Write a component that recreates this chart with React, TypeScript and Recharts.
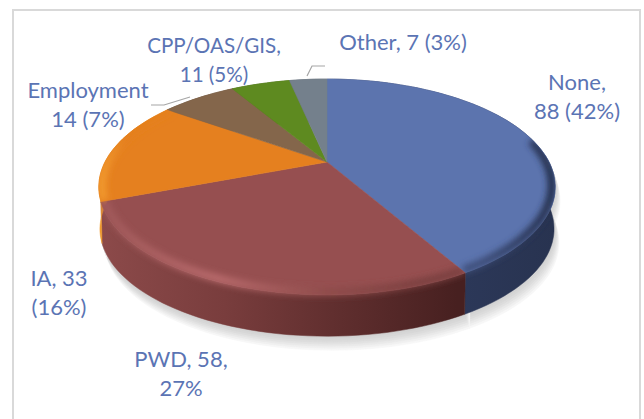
import { PieChart, Pie } from "recharts";

const names = ["None", "PWD", "IA", "Employment", "CPP/OAS/GIS", "Other"];
const values = [88, 58, 33, 14, 11, 7];
const topColors = ["#5c74ae", "#964f50", "#e5801f", "#84664b", "#5e8a20", "#74808c"];
const sideColors = ["url(#sideBlue)", "url(#sideRed)", "#f09a2c", "#5f4a36", "#42611a", "#525b64"];
const rimColors = ["url(#rimBlue)", "url(#rimRed)", "url(#rimOrange)", "none", "none", "none"];
const labelLines = [
  ["None,", "88 (42%)"],
  ["PWD, 58,", "27%"],
  ["IA, 33", "(16%)"],
  ["Employment", "14 (7%)"],
  ["CPP/OAS/GIS,", "11 (5%)"],
  ["Other, 7 (3%)"],
];

const slices = names.map((name, i) => ({ name, value: values[i], i }));

// where the labels sit (center x, first baseline, font size)
const labelPos = [
  [577, 90, 22],
  [181, 367, 22],
  [59, 286, 22],
  [88, 98, 22],
  [214, 53, 20.6],
  [403, 50, 22],
];
const leaders: Record<number, string> = {
  3: "151,105 164,105 190,97",
  5: "307,76 312,66 325,66",
};

const CX = 327;
const CY = 162;
const RADIUS = 222;
const FLATTEN = 0.46;
const PERSPECTIVE = 0.2315;
const DEPTH = 42;
// the blue bevel only runs from the right tip round to the front
const BLUE_RIM_FROM = 12;
// shadow is a stack of opaque copies of the wall, palest and furthest first
const SHADOW_STEPS: [number, string][] = [
  [14, "#f7f7f7"],
  [12, "#f0f0f0"],
  [10, "#e9e9e9"],
  [8, "#e2e2e2"],
  [6, "#dcdcdc"],
  [4, "#d7d7d7"],
  [2, "#d3d3d3"],
];

// projects a point of the pie circle on the tilted plane
function project(cx: number, cy: number, r: number, deg: number, dy = 0) {
  const a = (deg * Math.PI) / 180;
  const d = 1 + PERSPECTIVE * Math.sin(a);
  return [cx + (r * Math.cos(a)) / d, cy - (r * FLATTEN * Math.sin(a)) / d + dy];
}

function arc(cx: number, cy: number, r: number, from: number, to: number, dy = 0) {
  const n = Math.max(2, Math.ceil(Math.abs(to - from) / 2));
  const pts: number[][] = [];
  for (let k = 0; k <= n; k++) pts.push(project(cx, cy, r, from + ((to - from) * k) / n, dy));
  return pts;
}

const toPath = (pts: number[][]) => pts.map((p, k) => `${k ? "L" : "M"}${p[0].toFixed(1)} ${p[1].toFixed(1)}`).join(" ");

const topPath = (p: any) => {
  const pts = arc(p.cx, p.cy, p.outerRadius, p.startAngle, p.endAngle);
  return `M${p.cx} ${p.cy} ${toPath(pts).replace("M", "L")} Z`;
};

const sidePath = (p: any, dx = 0, dy = 0) => {
  const upper = arc(p.cx + dx, p.cy, p.outerRadius, p.startAngle, p.endAngle, dy);
  const lower = arc(p.cx + dx, p.cy, p.outerRadius * 0.995, p.endAngle, p.startAngle, DEPTH + dy);
  return `${toPath(upper)} ${toPath(lower).replace("M", "L")} Z`;
};

const TopShape = (p: any) => {
  const fill = topColors[p.payload.i];
  return <path d={topPath(p)} fill={fill} stroke={fill} strokeWidth={0.6} />;
};

const SideShape = (p: any) => {
  const fill = sideColors[p.payload.i];
  return <path d={sidePath(p)} fill={fill} stroke={fill} strokeWidth={0.5} />;
};

const ShadowShape = (p: any) => (
  <g>
    {SHADOW_STEPS.map(([dy, color]) => (
      <path key={dy} d={sidePath(p, dy * 0.35, dy)} fill={color} stroke={color} strokeWidth={0.6} />
    ))}
  </g>
);

// soft bevel along the front edge, kept inside the slice
const RimShape = (p: any) => {
  const stroke = rimColors[p.payload.i];
  if (stroke === "none") return <g />;
  const clipId = `rimClip${p.payload.i}`;
  const from = p.payload.i === 0 ? Math.min(p.startAngle, BLUE_RIM_FROM) : p.startAngle;
  const pts = arc(p.cx, p.cy, p.outerRadius * 0.985, from, p.endAngle, -1);
  return (
    <g clipPath={`url(#${clipId})`}>
      <clipPath id={clipId}>
        <path d={topPath(p)} />
        <path d={sidePath(p)} />
      </clipPath>
      <path d={toPath(pts)} fill="none" stroke={stroke} strokeWidth={8} filter="url(#rimBlur)" />
    </g>
  );
};

const renderLabel = (p: any) => {
  const i = p.index;
  const [x, y, size] = labelPos[i];
  return (
    <g key={i}>
      {leaders[i] && <polyline points={leaders[i]} fill="none" stroke="#a6a6a6" strokeWidth={1.2} />}
      {labelLines[i].map((line, k) => (
        <text key={k} x={x} y={y + k * 29} textAnchor="middle" fill="#5b74b4" fontSize={size} fontFamily="Lato">
          {line}
        </text>
      ))}
    </g>
  );
};

const pieProps = {
  data: slices,
  dataKey: "value",
  nameKey: "name",
  cx: CX,
  cy: CY,
  outerRadius: RADIUS,
  startAngle: 90,
  endAngle: -270,
  stroke: "none",
  isAnimationActive: false,
  labelLine: false,
};

export default function App() {
  return (
    <div style={{ position: "absolute", left: 0, top: 0, width: 644, height: 419, overflow: "hidden", background: "#fff" }}>
      <div style={{ position: "absolute", left: 12, top: 9, width: 625, height: 440, border: "2px solid #d9d9d9" }} />
      <div style={{ position: "absolute", left: 0, top: 0 }}>
        <PieChart width={644} height={419} margin={{ top: 0, right: 0, bottom: 0, left: 0 }}>
          <defs>
            <linearGradient id="sideBlue" gradientUnits="userSpaceOnUse" x1="457" y1="0" x2="555" y2="0">
              <stop offset="0%" stopColor="#2c3859" />
              <stop offset="100%" stopColor="#283350" />
            </linearGradient>
            <linearGradient id="sideRed" gradientUnits="userSpaceOnUse" x1="100" y1="0" x2="457" y2="0">
              <stop offset="0%" stopColor="#8c4a4a" />
              <stop offset="35%" stopColor="#793d3d" />
              <stop offset="65%" stopColor="#612f2f" />
              <stop offset="100%" stopColor="#472020" />
            </linearGradient>
            <linearGradient id="rimBlue" gradientUnits="userSpaceOnUse" x1="480" y1="0" x2="555" y2="0">
              <stop offset="0%" stopColor="#3d4d78" />
              <stop offset="100%" stopColor="#222c48" />
            </linearGradient>
            <linearGradient id="rimRed" gradientUnits="userSpaceOnUse" x1="110" y1="0" x2="420" y2="0">
              <stop offset="0%" stopColor="#a25a5b" />
              <stop offset="35%" stopColor="#b96b6d" />
              <stop offset="70%" stopColor="#8f4c4b" />
              <stop offset="100%" stopColor="#7a3f3f" />
            </linearGradient>
            <linearGradient id="rimOrange" gradientUnits="userSpaceOnUse" x1="100" y1="0" x2="125" y2="0">
              <stop offset="0%" stopColor="#f39c30" />
              <stop offset="100%" stopColor="#e5801f" />
            </linearGradient>
            <filter id="rimBlur" filterUnits="userSpaceOnUse" x="0" y="0" width="644" height="419">
              <feGaussianBlur stdDeviation="3" />
            </filter>
          </defs>
          <Pie {...pieProps} shape={ShadowShape} inactiveShape={ShadowShape} />
          <Pie {...pieProps} shape={SideShape} inactiveShape={SideShape} />
          <Pie {...pieProps} shape={TopShape} inactiveShape={TopShape} />
          <Pie {...pieProps} shape={RimShape} inactiveShape={RimShape} label={renderLabel} />
        </PieChart>
      </div>
    </div>
  );
}
